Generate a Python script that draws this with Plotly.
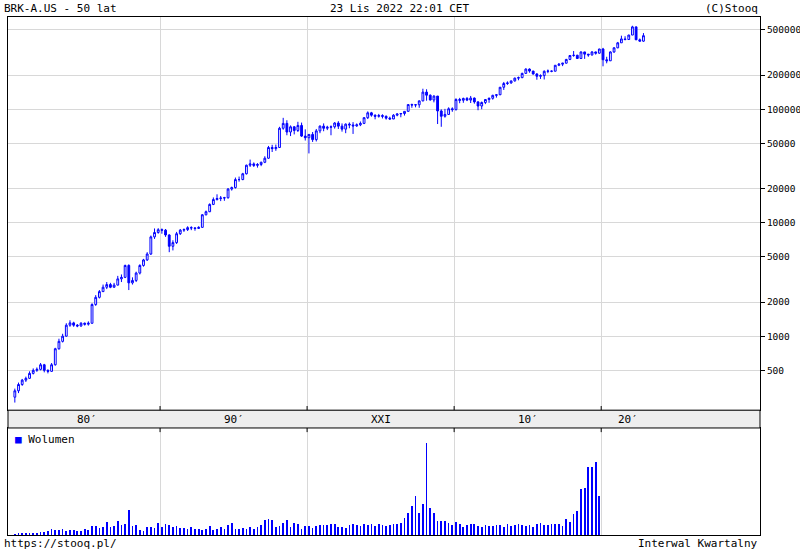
import plotly.graph_objects as go

years = list(range(1980, 2023))
closes = [
330,375,410,425, 470,500,510,560, 500,490,560,775, 900,1000,1250,1310,
1250,1230,1300,1275, 1300,1900,2200,2470, 2700,2850,2700,2820, 3200,3300,4200,2950,
3100,3600,4200,4700, 5300,7500,8200,8675, 8600,7800,6200,6675, 8000,8600,8700,9050,
9000,8900,9100,11750, 12500,14500,16000,16325, 16500,16600,19800,20400, 24000,24000,27000,32100,
33000,32000,32600,34100, 37000,46000,45000,46000, 68000,75000,63000,70000, 65000,72000,58000,56100,
60000,54000,64500,71000, 68000,69400,70000,75600, 71000,66800,73900,72750, 71300,72900,75000,84250,
93000,88700,86600,87900, 86700,83500,82000,88620, 90900,91700,95800,109990, 109000,109500,118500,141600,
133000,120700,130600,96600, 86700,90000,101000,99200, 121800,120000,124500,120450, 125400,116100,106800,114755,
121900,124900,132600,134060, 156300,168600,170400,177900, 188000,189800,207000,226000, 217000,204600,195300,197800,
216000,217100,216300,244121, 249400,254600,274700,297600, 299100,280000,320000,306000, 301200,319900,312000,339590,
273000,267300,320000,347815, 385000,416700,411600,450662, 532000,409500,398000,445000]
first_open = 290
highs = [
345,390,420,440, 490,520,530,580, 570,510,580,790, 950,1050,1300,1380,
1340,1280,1330,1320, 1350,1950,2300,2550, 2850,3000,2950,2950, 3400,3500,4270,4300,
3300,3700,4300,4800, 5500,7700,8900,8950, 8900,8800,7900,7000, 8300,8800,8900,9300,
9300,9150,9300,11900, 12800,14800,16700,17800, 17200,16900,20200,20800, 25000,25500,27500,32500,
36000,34000,33500,34500, 38500,47500,48600,48800, 70000,84000,80000,72000, 71000,77500,76300,66500,
60500,63000,67000,72000, 75000,71500,72000,77000, 78500,75000,75000,76500, 77000,75000,78000,85000,
95700,94800,90000,91000, 90300,88000,86000,90500, 92000,92200,96000,110000, 112000,111000,119500,151650,
150000,135000,133000,131000, 99800,100800,104000,104000, 125000,126000,126500,128000, 131000,127000,117500,116900,
123000,126800,134200,136000, 157000,174000,176000,178000, 190000,194000,210000,229400, 229000,218000,208000,203000,
220000,224000,219000,245000, 255000,256000,278000,298000, 326000,302000,323000,319000, 307000,325000,322000,341000,
347400,290000,324000,352000, 392000,445000,440000,453000, 544000,536000,420000,469000]
lows = [
260,315,365,395, 420,460,485,500, 480,470,485,550, 760,880,990,1210,
1210,1200,1210,1240, 1240,1290,1850,2150, 2450,2600,2650,2680, 2800,3000,3250,2550,
2850,3000,3500,4100, 4600,5200,7200,8000, 8000,7500,5500,5700, 6500,7800,8300,8450,
8600,8500,8800,9050, 11600,12400,14300,15700, 15500,15600,16300,19200, 20000,23000,23700,26600,
31000,31000,30600,31500, 33500,36500,42000,43000, 45700,66000,59000,58000, 60000,63000,57000,53000,
40800,51500,52000,61500, 64000,65500,59000,67500, 67000,63500,61500,68000, 60600,70000,71000,74000,
82000,86000,81500,84400, 83000,81000,81000,82500, 86700,85000,88000,96000, 103000,104000,103000,117500,
119000,119500,115000,74100, 70050,84300,89000,95000, 97500,113000,114000,118000, 113500,112000,98000,100000,
111000,114000,121500,126600, 135500,148000,164000,168000, 175000,180000,188000,205000, 210000,202000,182000,185000,
183000,208000,212000,216000, 240000,240000,253000,271000, 290000,278000,277000,278000, 290000,297000,303000,308000,
239000,254000,266000,314000, 345000,384000,405000,408000, 451000,407000,395000,393000]
volumes = [
1,2,2,2, 2,2,2,3, 3,4,6,5, 5,6,4,5, 5,4,4,6, 5,9,9,7, 8,13,8,9,
14,10,11,25, 9,10,5,4, 8,8,7,12, 8,11,10,8, 9,7,7,6, 8,6,6,5,
6,9,5,6, 8,6,10,12, 6,6,7,6, 8,6,8,10, 15,16,15,8, 9,12,15,8,
12,11,6,9, 9,7,9,10, 10,10,11,11, 8,8,7,10, 11,10,9,11,
10,11,9,11, 10,9,10,11, 11,12,17,22, 28,38,22,30, 90,27,22,14,
14,14,12,10, 13,11,8,10, 11,11,9,8, 10,9,9,10, 10,8,11,9,
10,11,10,9, 10,8,11,12, 10,10,11,11, 11,9,16,13, 21,24,45,46, 67,67,72,38]

x = []
for y in years:
    for q in range(4):
        x.append(y + q / 4 + 0.125)
opens = [first_open] + closes[:-1]

BLUE = "#0000ff"
fig = go.Figure()
fig.add_trace(go.Candlestick(
    x=x, open=opens, high=highs, low=lows, close=closes,
    increasing=dict(line=dict(color=BLUE, width=1), fillcolor="white"),
    decreasing=dict(line=dict(color=BLUE, width=1), fillcolor=BLUE),
    whiskerwidth=0, xaxis="x", yaxis="y", showlegend=False, hoverinfo="skip"))
fig.add_trace(go.Bar(x=x, y=volumes, width=0.05, marker=dict(color=BLUE, line=dict(width=0)),
                     xaxis="x2", yaxis="y2", showlegend=False))

xr = [1979.66, 2030.8]
grid = [1990, 2000, 2010, 2020]
fig.update_layout(
    width=800, height=550, margin=dict(l=8, r=40, t=17, b=15, autoexpand=False),
    paper_bgcolor="white", plot_bgcolor="white",
    font=dict(family="DejaVu Sans Mono", size=11, color="black"),
    xaxis=dict(range=xr, domain=[0, 1], anchor="y", tickvals=grid, ticktext=[""] * 4, automargin=False,
               showgrid=True, gridcolor="#d8d8d8", rangeslider=dict(visible=False),
               showline=True, linecolor="black", mirror=True, ticks="", zeroline=False),
    yaxis=dict(type="log", domain=[0.241, 1], range=[2.348, 5.813], side="right", automargin=False,
               tickvals=[500, 1000, 2000, 5000, 10000, 20000, 50000, 100000, 200000, 500000],
               ticktext=["500", "1000", "2000", "5000", "10000", "20000", "50000", "100000", "200000", "500000"],
               tickfont=dict(size=9.5),
               showgrid=True, gridcolor="#d8d8d8", ticks="outside", ticklen=4, tickcolor="black",
               showline=True, linecolor="black", mirror=True, zeroline=False),
    xaxis2=dict(range=xr, domain=[0, 1], anchor="y2", tickvals=grid, ticktext=[""] * 4, automargin=False,
                showgrid=True, gridcolor="#d8d8d8", showline=True, linecolor="black", mirror=True,
                ticks="", zeroline=False),
    yaxis2=dict(domain=[0, 0.2066], range=[0, 105], showticklabels=False, showgrid=False, automargin=False,
                showline=True, linecolor="black", mirror=True, ticks="", zeroline=False),
    bargap=0,
)
fig.add_shape(type="rect", xref="paper", yref="paper", x0=0, x1=1, y0=0.2066, y1=0.241,
              fillcolor="#eeeeee", line=dict(color="black", width=1), layer="above")
for g in grid:
    fig.add_shape(type="line", xref="x", yref="paper", x0=g, x1=g, y0=0.241, y1=0.249,
                  line=dict(color="black", width=1))
    fig.add_shape(type="line", xref="x", yref="paper", x0=g, x1=g, y0=0.1986, y1=0.2066,
                  line=dict(color="black", width=1))
labels = [("80′", 1985), ("90′", 1995), ("XXI", 2005), ("10′", 2015), ("20′", 2021.8)]
for t, xv in labels:
    fig.add_annotation(text=t, x=xv, xref="x", y=0.2238, yref="paper", showarrow=False,
                       font=dict(size=11), xanchor="center", yanchor="middle")
fig.add_annotation(text="<span style='color:#0000ff'>■</span> Wolumen", x=0.006, xref="paper",
                   y=0.2, yref="paper", showarrow=False, xanchor="left", yanchor="top")
fig.add_annotation(text="BRK-A.US - 50 lat", x=0, xref="paper", y=1.0, yref="paper",
                   showarrow=False, xanchor="left", yanchor="bottom", xshift=-6)
fig.add_annotation(text="23 Lis 2022 22:01 CET", x=0.5, xref="paper", y=1.0, yref="paper",
                   showarrow=False, xanchor="center", yanchor="bottom", xshift=15)
fig.add_annotation(text="(C)Stooq", x=1, xref="paper", y=1.0, yref="paper",
                   showarrow=False, xanchor="right", yanchor="bottom")
fig.add_annotation(text="https://stooq.pl/", x=0, xref="paper", y=0, yref="paper",
                   showarrow=False, xanchor="left", yanchor="top", xshift=-6)
fig.add_annotation(text="Interwal Kwartalny", x=1, xref="paper", y=0, yref="paper",
                   showarrow=False, xanchor="right", yanchor="top")
fig.write_html("out.html", config={"displayModeBar": False})
with open("out.html", encoding="utf-8") as f:
    html = f.read()
html = html.replace("<head>", "<head><style>html,body{margin:0;padding:0;overflow:hidden}</style>", 1)
with open("out.html", "w", encoding="utf-8") as f:
    f.write(html)
